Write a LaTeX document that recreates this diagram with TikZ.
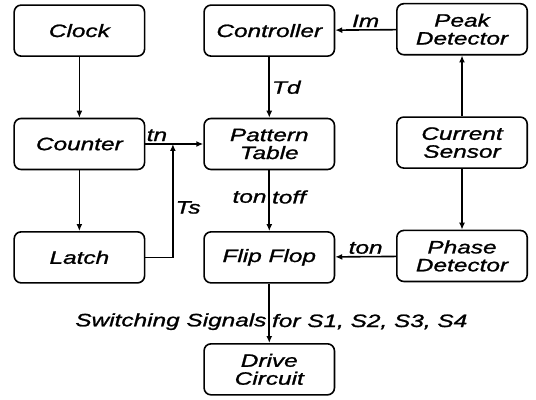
\documentclass[tikz,border=0pt]{standalone}
\usepackage{fontspec}
\newfontfamily\diagfont[FakeStretch=1.36,FakeBold=1.2]{Liberation Sans}
\usepackage{tikz}
\usetikzlibrary{arrows.meta,positioning}
\tikzset{
  blk/.style={draw, line width=1.6pt, rounded corners=7pt, align=center,
              font=\diagfont\itshape\fontsize{18}{18}\selectfont,
              minimum width=4.6cm, minimum height=1.8cm, inner sep=2pt},
  sigline/.style={line width=1.6pt, -{Latex[length=7pt,width=6pt]}},
  lbl/.style={font=\diagfont\itshape\fontsize{18}{18}\selectfont, inner sep=2pt},
}
\begin{document}
\begin{tikzpicture}
\useasboundingbox (0,0) rectangle (18.91,14.08);
% Left column: timing
\node[blk] (clock) at (2.8,13.0) {Clock};
\node[blk] (counter) at (2.8,9.0) {Counter};
\node[blk] (latch) at (2.8,5.0) {Latch};

% Middle column: pattern and switching
\node[blk] (controller) at (9.5,13.0) {Controller};
\node[blk] (table) at (9.5,9.0) {Pattern\\Table};
\node[blk] (flipflop) at (9.5,5.0) {Flip Flop};
\node[blk] (drive) at (9.5,1.05) {Drive\\Circuit};

% Right column: sensing
\node[blk] (peak) at (16.3,13.05) {Peak\\Detector};
\node[blk] (sensor) at (16.3,9.05) {Current\\Sensor};
\node[blk] (phase) at (16.3,5.05) {Phase\\Detector};

\coordinate (tsjoin) at (6.1,9.0);

% Connections
\draw[sigline] (clock) -- (counter);
\draw[sigline] (counter) -- (latch);
\draw[sigline] (counter) -- node[lbl, pos=0.2, above] {tn} (table);
\draw[sigline] (latch.east) -| node[lbl, pos=0.72, right] {Ts} (tsjoin);
\draw[sigline] (controller) -- node[lbl, right] {Td} (table);
\draw[sigline] (table) -- node[lbl, pos=0.44, left] {ton} node[lbl, pos=0.44, right] {toff} (flipflop);
\draw[sigline] (flipflop) -- node[lbl, pos=0.64, left] {Switching Signals}
  node[lbl, pos=0.64, right] {for S1, S2, S3, S4} (drive);
\draw[sigline] (peak) -- node[lbl, above] {Im} (controller);
\draw[sigline] (sensor) -- (peak);
\draw[sigline] (sensor) -- (phase);
\draw[sigline] (phase) -- node[lbl, above] {ton} (flipflop);
\end{tikzpicture}
\end{document}
